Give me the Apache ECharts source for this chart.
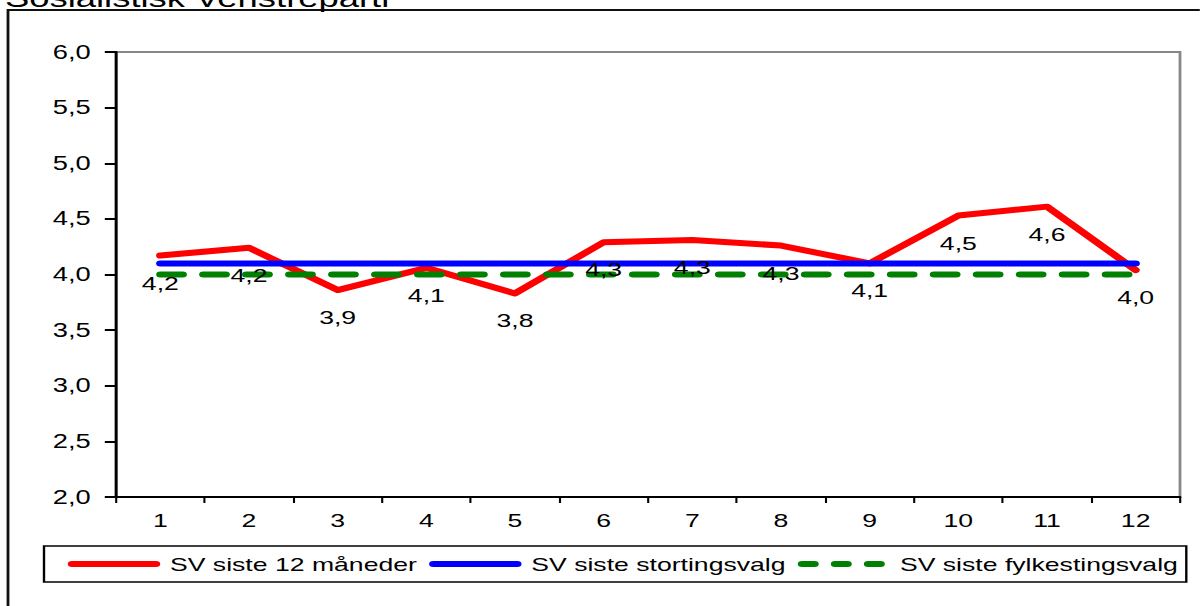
<!DOCTYPE html>
<html>
<head>
<meta charset="utf-8">
<script src="https://cdn.jsdelivr.net/npm/echarts@6/dist/echarts.min.js"></script>
<style>
html,body{margin:0;padding:0;background:#fff;overflow:hidden}
#wrap{width:1200px;height:606px;overflow:hidden;position:relative;background:#fff}
#chart{position:absolute;left:0;top:0;height:606px;transform-origin:0 0}
</style>
</head>
<body>
<div id="wrap"><div id="chart"></div></div>
<script>
// ---- data ----
const titleText = 'Sosialistisk Venstreparti';
const categories = ['1','2','3','4','5','6','7','8','9','10','11','12'];
const nameMonths = 'SV siste 12 måneder';
const nameStorting = 'SV siste stortingsvalg';
const nameFylke = 'SV siste fylkestingsvalg';
const sv12 = [4.17, 4.24, 3.86, 4.06, 3.83, 4.29, 4.31, 4.26, 4.10, 4.53, 4.61, 4.04];
const svStorting = [4.1, 4.1, 4.1, 4.1, 4.1, 4.1, 4.1, 4.1, 4.1, 4.1, 4.1, 4.1];
const svFylke = [4.0, 4.0, 4.0, 4.0, 4.0, 4.0, 4.0, 4.0, 4.0, 4.0, 4.0, 4.0];
const yMin = 2.0, yMax = 6.0, yStep = 0.5;

// ---- layout (reference is horizontally stretched) ----
const S = 1.4;
const W = 1200 / S;
const px = x => x / S;
const FONT = '"Liberation Sans", Arial, sans-serif';
const fmt = v => Number(v).toFixed(1).replace('.', ',');

const el = document.getElementById('chart');
el.style.width = W + 'px';
el.style.transform = 'scaleX(' + S + ')';

const chart = echarts.init(el, null, { renderer: 'svg', width: W, height: 606 });

chart.setOption({
  animation: false,
  backgroundColor: 'transparent',
  textStyle: { fontFamily: FONT, color: '#000' },
  graphic: [
    {
      type: 'rect', silent: true, z: 0,
      shape: { x: px(8), y: 10, width: W + 50, height: 700 },
      style: { fill: 'none', stroke: '#111', lineWidth: 2 }
    },
    {
      type: 'text', silent: true, z: 1,
      x: px(5), y: -2,
      style: { text: titleText, fill: '#000', font: '26px ' + FONT, verticalAlign: 'middle' }
    }
  ],
  grid: {
    left: px(116), right: W - px(1180), top: 52, bottom: 109,
    show: true, borderColor: '#888', borderWidth: 2, backgroundColor: 'transparent'
  },
  legend: {
    data: [
      { name: nameMonths },
      { name: nameStorting },
      { name: nameFylke, lineStyle: { type: [9, 14.6] } }
    ],
    left: px(44), top: 546, width: 1000,
    orient: 'horizontal',
    itemWidth: 60, itemHeight: 14, itemGap: 8.7,
    padding: [8.5, 6, 8.5, 17],
    borderColor: '#000', borderWidth: 1.7,
    backgroundColor: '#fff',
    lineStyle: { width: 6 },
    itemStyle: { opacity: 0 },
    textStyle: { fontSize: 19, fontFamily: FONT, color: '#000', padding: [0, 0, 0, 5] },
    selectedMode: false
  },
  xAxis: {
    type: 'category',
    data: categories,
    boundaryGap: true,
    axisLine: { onZero: false, lineStyle: { color: '#000', width: 2 } },
    axisTick: { show: true, interval: 0, length: 6, lineStyle: { color: '#000', width: 1.5 } },
    axisLabel: { interval: 0, margin: 14, fontSize: 19, color: '#000', fontFamily: FONT },
    splitLine: { show: false }
  },
  yAxis: {
    type: 'value',
    min: yMin, max: yMax, interval: yStep,
    axisLine: { show: true, lineStyle: { color: '#000', width: 2 } },
    axisTick: { show: true, length: 8, lineStyle: { color: '#000', width: 2 } },
    axisLabel: { margin: 18, fontSize: 19.5, color: '#000', fontFamily: FONT, formatter: fmt },
    splitLine: { show: false }
  },
  series: [
    {
      name: nameMonths, type: 'line', data: sv12, symbol: 'none', z: 2,
      lineStyle: { color: '#ff0000', width: 6, cap: 'round', join: 'round' },
      itemStyle: { color: '#ff0000' }
    },
    {
      name: nameStorting, type: 'line', data: svStorting, symbol: 'none', z: 3,
      lineStyle: { color: '#0000ff', width: 6, cap: 'round', join: 'round' },
      itemStyle: { color: '#0000ff' }
    },
    {
      name: nameFylke, type: 'line', data: svFylke, symbol: 'none', z: 4,
      lineStyle: { color: '#008000', width: 6, type: [16, 14.7], cap: 'round', join: 'round' },
      itemStyle: { color: '#008000' }
    },
    {
      name: 'labels', type: 'line', data: sv12, z: 10, silent: true,
      symbol: 'circle', symbolSize: 1, showSymbol: true,
      lineStyle: { width: 0, opacity: 0 },
      itemStyle: { color: 'transparent' },
      emphasis: { disabled: true },
      label: {
        show: true, position: 'bottom', distance: 17.5,
        fontSize: 19, color: '#000', fontFamily: FONT,
        formatter: p => fmt(p.value)
      }
    }
  ]
});
</script>
</body>
</html>
